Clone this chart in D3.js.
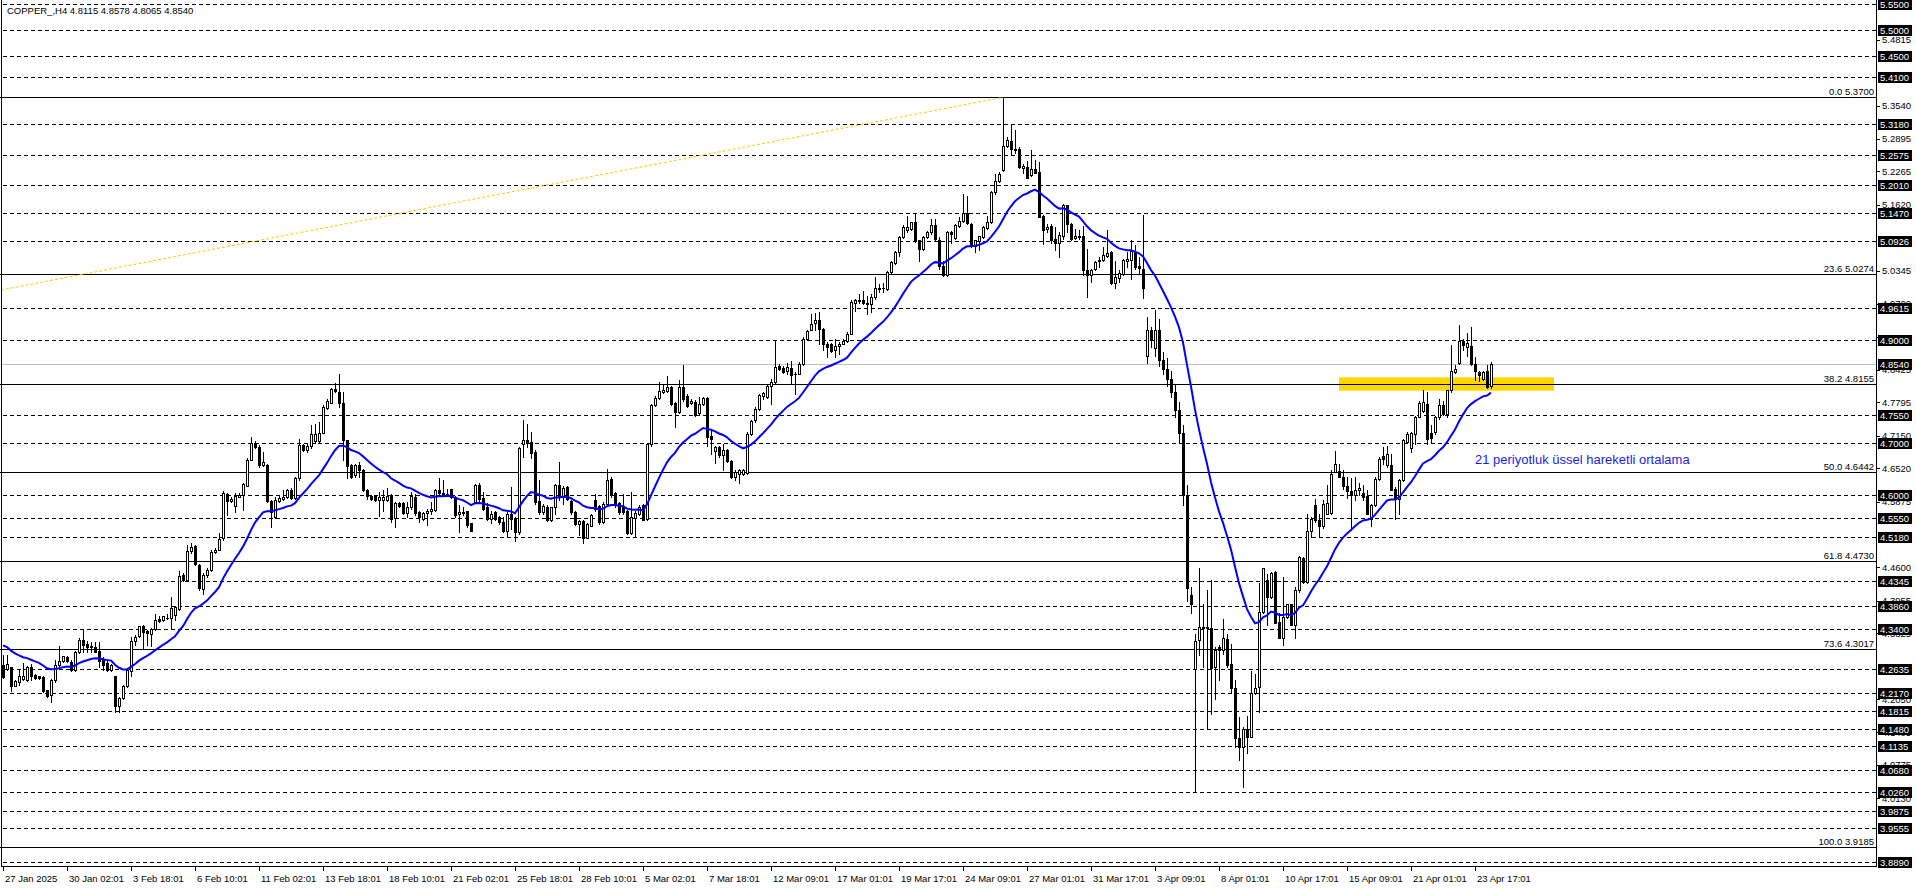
<!DOCTYPE html>
<html><head><meta charset="utf-8">
<script src="https://cdn.jsdelivr.net/npm/d3@7"></script>
<style>html,body{margin:0;padding:0;background:#fff;overflow:hidden}svg{display:block}</style>
</head><body>
<svg id="c" width="1916" height="888"></svg>
<script>
// ---------------- DATA ----------------
const opens=[
4.271,4.264,4.267,4.231,4.239,4.244,4.242,4.268,4.251,4.249,
4.248,4.222,4.213,4.242,4.271,4.278,4.286,4.276,4.262,4.297,
4.319,4.312,4.307,4.306,4.299,4.280,4.275,4.262,4.249,4.191,
4.207,4.230,4.259,4.317,4.328,4.347,4.336,4.331,4.340,4.360,
4.359,4.362,4.362,4.368,4.379,4.446,4.436,4.491,4.502,4.465,
4.418,4.446,4.455,4.489,4.494,4.517,4.602,4.588,4.578,4.597,
4.600,4.618,4.668,4.700,4.693,4.658,4.658,4.588,4.558,4.588,
4.592,4.596,4.610,4.594,4.633,4.697,4.687,4.695,4.704,4.704,
4.721,4.768,4.779,4.805,4.799,4.778,4.707,4.658,4.638,4.659,
4.649,4.610,4.599,4.598,4.591,4.591,4.590,4.601,4.556,4.585,
4.585,4.565,4.576,4.596,4.567,4.554,4.565,4.570,4.572,4.610,
4.604,4.601,4.611,4.596,4.563,4.565,4.569,4.546,4.587,4.619,
4.595,4.576,4.554,4.567,4.558,4.548,4.530,4.563,4.554,4.529,
4.699,4.707,4.702,4.683,4.588,4.567,4.577,4.552,4.576,4.619,
4.596,4.616,4.589,4.567,4.545,4.550,4.517,4.541,4.591,4.578,
4.548,4.583,4.632,4.604,4.585,4.577,4.569,4.527,4.556,4.564,
4.581,4.554,4.698,4.774,4.788,4.799,4.801,4.810,4.778,4.761,
4.810,4.791,4.778,4.781,4.758,4.777,4.788,4.714,4.685,4.694,
4.677,4.688,4.666,4.636,4.640,4.641,4.643,4.719,4.745,4.767,
4.791,4.790,4.812,4.819,4.850,4.847,4.840,4.847,4.835,4.835,
4.853,4.903,4.920,4.933,4.939,4.922,4.892,4.892,4.881,4.888,
4.893,4.898,4.912,4.971,4.975,4.978,4.971,4.969,4.983,4.999,
5.000,4.999,5.031,5.049,5.070,5.099,5.113,5.115,5.128,5.093,
5.077,5.099,5.109,5.122,5.094,5.044,5.027,5.110,5.098,5.120,
5.130,5.146,5.125,5.082,5.091,5.099,5.117,5.128,5.186,5.209,
5.229,5.275,5.286,5.270,5.270,5.233,5.235,5.219,5.231,5.225,
5.140,5.116,5.121,5.095,5.088,5.101,5.161,5.124,5.098,5.101,
5.101,5.036,5.026,5.038,5.053,5.056,5.062,5.071,5.011,5.021,
5.029,5.054,5.056,5.071,5.043,5.038,4.870,4.919,4.885,4.920,
4.862,4.845,4.825,4.800,4.765,4.720,4.600,4.406,4.264,4.319,
4.343,4.345,4.343,4.267,4.305,4.301,4.322,4.273,4.227,4.129,
4.113,4.148,4.132,4.216,4.229,4.374,4.436,4.403,4.451,4.354,
4.324,4.364,4.389,4.348,4.416,4.479,4.432,4.530,4.580,4.551,
4.540,4.564,4.565,4.645,4.646,4.636,4.617,4.608,4.600,4.610,
4.604,4.599,4.554,4.580,4.632,4.676,4.658,4.659,4.612,4.593,
4.629,4.703,4.692,4.719,4.752,4.763,4.777,4.720,4.722,4.751,
4.774,4.757,4.803,4.838,4.856,4.899,4.887,4.888,4.854,4.838,
4.825,4.840,4.8115];
const highs=[
4.291,4.291,4.268,4.242,4.262,4.275,4.269,4.273,4.254,4.250,
4.249,4.223,4.244,4.281,4.308,4.289,4.288,4.281,4.299,4.323,
4.341,4.317,4.315,4.315,4.315,4.286,4.282,4.273,4.250,4.210,
4.233,4.265,4.326,4.329,4.347,4.349,4.338,4.342,4.370,4.365,
4.366,4.370,4.402,4.385,4.454,4.449,4.504,4.508,4.504,4.467,
4.449,4.459,4.493,4.497,4.526,4.607,4.605,4.596,4.604,4.604,
4.623,4.671,4.712,4.704,4.697,4.684,4.660,4.591,4.597,4.600,
4.610,4.611,4.613,4.635,4.709,4.699,4.699,4.736,4.738,4.742,
4.775,4.786,4.807,4.817,4.835,4.800,4.707,4.661,4.661,4.664,
4.650,4.612,4.601,4.599,4.606,4.609,4.614,4.603,4.587,4.587,
4.586,4.587,4.606,4.603,4.570,4.567,4.574,4.587,4.612,4.634,
4.630,4.612,4.612,4.598,4.580,4.577,4.570,4.546,4.622,4.623,
4.606,4.585,4.570,4.570,4.559,4.558,4.567,4.616,4.558,4.693,
4.746,4.738,4.723,4.687,4.630,4.582,4.580,4.577,4.622,4.664,
4.617,4.617,4.590,4.570,4.552,4.551,4.546,4.563,4.603,4.580,
4.587,4.651,4.635,4.606,4.587,4.603,4.572,4.606,4.570,4.580,
4.583,4.699,4.777,4.791,4.819,4.816,4.830,4.812,4.780,4.823,
4.851,4.795,4.787,4.785,4.790,4.790,4.790,4.725,4.696,4.696,
4.699,4.690,4.667,4.648,4.651,4.651,4.722,4.746,4.770,4.796,
4.799,4.816,4.825,4.901,4.853,4.849,4.856,4.859,4.838,4.857,
4.906,4.920,4.951,4.952,4.954,4.924,4.896,4.894,4.903,4.896,
4.903,4.916,4.977,4.980,4.990,4.995,4.986,4.990,5.022,5.008,
5.010,5.033,5.053,5.072,5.102,5.122,5.141,5.129,5.146,5.094,
5.102,5.112,5.135,5.135,5.099,5.054,5.112,5.112,5.125,5.138,
5.182,5.180,5.126,5.094,5.102,5.121,5.141,5.189,5.222,5.225,
5.370,5.293,5.319,5.307,5.273,5.241,5.246,5.269,5.249,5.245,
5.142,5.125,5.124,5.119,5.109,5.164,5.162,5.126,5.116,5.113,
5.120,5.077,5.038,5.054,5.061,5.080,5.114,5.073,5.054,5.035,
5.058,5.071,5.093,5.084,5.061,5.142,4.945,4.926,4.959,4.940,
4.877,4.865,4.840,4.815,4.780,4.735,4.620,4.423,4.332,4.458,
4.389,4.416,4.435,4.306,4.309,4.361,4.332,4.311,4.242,4.171,
4.151,4.172,4.260,4.254,4.430,4.459,4.448,4.451,4.453,4.371,
4.442,4.390,4.390,4.422,4.483,4.480,4.564,4.557,4.593,4.564,
4.591,4.619,4.649,4.685,4.661,4.648,4.635,4.634,4.636,4.623,
4.619,4.609,4.583,4.635,4.674,4.694,4.696,4.680,4.616,4.632,
4.709,4.722,4.722,4.754,4.783,4.803,4.799,4.735,4.754,4.787,
4.783,4.803,4.890,4.851,4.930,4.903,4.914,4.926,4.867,4.841,
4.841,4.851,4.8578];
const lows=[
4.246,4.262,4.220,4.230,4.233,4.242,4.241,4.242,4.244,4.244,
4.219,4.210,4.200,4.239,4.268,4.277,4.277,4.260,4.260,4.294,
4.297,4.297,4.297,4.296,4.268,4.262,4.259,4.260,4.181,4.181,
4.205,4.228,4.249,4.310,4.326,4.304,4.310,4.307,4.339,4.355,
4.357,4.360,4.342,4.358,4.378,4.433,4.435,4.488,4.465,4.417,
4.409,4.442,4.454,4.488,4.493,4.513,4.562,4.586,4.568,4.596,
4.571,4.617,4.667,4.691,4.654,4.657,4.586,4.539,4.555,4.586,
4.591,4.594,4.592,4.592,4.629,4.686,4.684,4.691,4.700,4.702,
4.720,4.766,4.778,4.800,4.771,4.668,4.634,4.634,4.636,4.635,
4.608,4.593,4.590,4.589,4.559,4.570,4.589,4.548,4.538,4.577,
4.564,4.558,4.574,4.561,4.548,4.552,4.543,4.564,4.570,4.601,
4.598,4.598,4.595,4.558,4.529,4.561,4.538,4.530,4.585,4.585,
4.572,4.552,4.546,4.551,4.545,4.529,4.519,4.535,4.511,4.525,
4.674,4.693,4.672,4.582,4.564,4.564,4.550,4.550,4.563,4.590,
4.583,4.590,4.564,4.543,4.522,4.507,4.516,4.540,4.570,4.545,
4.546,4.580,4.596,4.577,4.564,4.564,4.525,4.524,4.518,4.561,
4.551,4.552,4.696,4.772,4.787,4.797,4.799,4.774,4.732,4.758,
4.783,4.770,4.777,4.754,4.756,4.774,4.696,4.679,4.662,4.674,
4.649,4.664,4.634,4.630,4.623,4.638,4.640,4.716,4.741,4.765,
4.787,4.788,4.777,4.816,4.843,4.836,4.835,4.816,4.795,4.834,
4.851,4.901,4.919,4.919,4.893,4.881,4.867,4.877,4.868,4.874,
4.892,4.896,4.911,4.957,4.971,4.969,4.951,4.954,4.980,4.993,
4.993,4.997,5.030,5.048,5.062,5.098,5.109,5.113,5.090,5.054,
5.075,5.098,5.106,5.094,5.038,5.025,5.025,5.088,5.096,5.119,
5.128,5.124,5.080,5.070,5.075,5.098,5.115,5.126,5.183,5.206,
5.227,5.273,5.260,5.262,5.233,5.223,5.213,5.217,5.224,5.138,
5.086,5.109,5.088,5.074,5.060,5.096,5.109,5.093,5.096,5.095,
5.027,4.984,5.013,5.036,5.042,5.054,5.061,5.008,5.000,5.013,
5.026,5.042,5.019,5.038,5.029,4.982,4.855,4.887,4.870,4.850,
4.835,4.812,4.790,4.752,4.700,4.580,4.395,4.371,4.025,4.290,
4.267,4.148,4.177,4.206,4.242,4.293,4.267,4.216,4.113,4.087,
4.035,4.100,4.131,4.214,4.180,4.371,4.348,4.400,4.352,4.324,
4.309,4.363,4.348,4.324,4.412,4.429,4.429,4.518,4.548,4.518,
4.537,4.563,4.563,4.645,4.635,4.612,4.595,4.532,4.591,4.600,
4.590,4.563,4.541,4.578,4.630,4.661,4.654,4.609,4.554,4.563,
4.627,4.701,4.683,4.699,4.751,4.761,4.699,4.701,4.719,4.748,
4.756,4.752,4.799,4.836,4.854,4.880,4.870,4.851,4.822,4.821,
4.822,4.808,4.8065];
const closes=[
4.248,4.273,4.231,4.240,4.250,4.250,4.268,4.250,4.246,4.246,
4.220,4.212,4.242,4.271,4.278,4.288,4.278,4.262,4.297,4.320,
4.310,4.306,4.306,4.297,4.278,4.271,4.262,4.271,4.191,4.207,
4.231,4.262,4.318,4.326,4.346,4.334,4.333,4.340,4.359,4.357,
4.365,4.363,4.381,4.383,4.444,4.435,4.492,4.499,4.467,4.420,
4.446,4.455,4.489,4.494,4.515,4.604,4.588,4.592,4.598,4.600,
4.622,4.668,4.700,4.693,4.658,4.665,4.588,4.568,4.591,4.595,
4.597,4.609,4.594,4.633,4.697,4.687,4.695,4.718,4.718,4.721,
4.771,4.783,4.805,4.802,4.778,4.707,4.656,4.635,4.659,4.649,
4.610,4.599,4.593,4.590,4.596,4.596,4.599,4.554,4.585,4.578,
4.565,4.577,4.598,4.565,4.558,4.565,4.570,4.574,4.610,4.604,
4.601,4.603,4.596,4.561,4.567,4.567,4.543,4.530,4.619,4.593,
4.574,4.554,4.564,4.554,4.548,4.530,4.563,4.554,4.529,4.692,
4.707,4.701,4.681,4.587,4.567,4.578,4.551,4.576,4.619,4.596,
4.614,4.593,4.567,4.545,4.550,4.516,4.545,4.561,4.574,4.548,
4.583,4.630,4.601,4.583,4.567,4.567,4.527,4.558,4.566,4.577,
4.552,4.698,4.775,4.788,4.801,4.803,4.809,4.777,4.761,4.810,
4.787,4.772,4.783,4.756,4.777,4.788,4.712,4.709,4.694,4.677,
4.688,4.666,4.635,4.645,4.648,4.649,4.719,4.743,4.767,4.793,
4.797,4.812,4.819,4.848,4.845,4.838,4.848,4.832,4.834,4.854,
4.903,4.917,4.932,4.939,4.922,4.892,4.886,4.879,4.888,4.893,
4.899,4.912,4.974,4.977,4.978,4.971,4.969,4.983,5.001,5.001,
5.001,5.031,5.051,5.070,5.099,5.119,5.119,5.128,5.091,5.077,
5.099,5.109,5.123,5.096,5.044,5.027,5.110,5.106,5.122,5.130,
5.146,5.126,5.082,5.093,5.101,5.119,5.128,5.186,5.209,5.222,
5.275,5.288,5.270,5.269,5.236,5.238,5.214,5.231,5.224,5.138,
5.113,5.119,5.093,5.088,5.103,5.162,5.124,5.096,5.101,5.100,
5.036,5.026,5.036,5.051,5.056,5.064,5.069,5.011,5.022,5.030,
5.056,5.057,5.073,5.042,5.040,5.001,4.920,4.900,4.920,4.862,
4.845,4.825,4.800,4.765,4.720,4.600,4.420,4.390,4.318,4.345,
4.345,4.342,4.266,4.301,4.300,4.324,4.271,4.227,4.129,4.113,
4.148,4.132,4.216,4.227,4.374,4.458,4.403,4.449,4.352,4.324,
4.364,4.389,4.348,4.416,4.481,4.432,4.530,4.554,4.551,4.540,
4.583,4.585,4.641,4.660,4.636,4.617,4.608,4.600,4.610,4.614,
4.596,4.564,4.580,4.632,4.670,4.670,4.680,4.610,4.593,4.630,
4.706,4.719,4.720,4.752,4.778,4.780,4.709,4.711,4.751,4.774,
4.757,4.803,4.840,4.845,4.899,4.890,4.894,4.854,4.840,4.832,
4.838,4.810,4.854];

const emaPeriod=21;
const emaStart=4.309;            // EMA value at the first visible bar
const dashedLevels=[5.5500,5.5000,5.4500,5.4100,5.3180,5.2575,5.2010,5.1470,5.0926,4.9615,4.9000,
  4.7550,4.7000,4.6000,4.5550,4.5180,4.4345,4.3860,4.3400,4.2635,4.2170,4.1815,4.1480,4.1135,
  4.0680,4.0260,3.9875,3.9555,3.8890];
const fibRatios=["0.0","23.6","38.2","50.0","61.8","73.6","100.0"];
const fibPrices=[5.3700,5.0274,4.8155,4.6442,4.4730,4.3017,3.9185];
// regular price-scale ticks that are not fully covered by a highlighted label
const axisTicks=[5.4815,5.3540,5.2895,5.2265,5.1620,5.0345,4.9700,4.9060,4.8425,
  4.7795,4.7150,4.6520,4.5875,4.4600,4.3955,4.3325,4.2050,4.1405,4.0775,4.0130];
const currentPrice=4.8540;
const timeLabelBars=[0,16,32,48,64,80,96,112,128,144,160,176,192,208,224,240,256,272,288,304,320,336,352,368];
const timeLabels=["27 Jan 2025","30 Jan 02:01","3 Feb 18:01","6 Feb 10:01","11 Feb 02:01","13 Feb 18:01",
  "18 Feb 10:01","21 Feb 02:01","25 Feb 18:01","28 Feb 10:01","5 Mar 02:01","7 Mar 18:01","12 Mar 09:01",
  "17 Mar 01:01","19 Mar 17:01","24 Mar 09:01","27 Mar 01:01","31 Mar 17:01","3 Apr 09:01","8 Apr 01:01",
  "10 Apr 17:01","15 Apr 09:01","21 Apr 01:01","23 Apr 17:01"];
const zoneBars=[334,387.75];
const zonePrices=[4.8280,4.8021];
const trendBars=[-0.5,250];
const trendPrices=[4.997,5.370];
const headerText="COPPER_,H4  4.8115 4.8578 4.8065 4.8540";
const emaLabel="21 periyotluk üssel hareketli ortalama";

// ---------------- DRAW ----------------
const svg=d3.select("#c");
const FONT="'Liberation Sans', Arial, sans-serif";
const plotRight=1876, plotBottom=867;
const x=d3.scaleLinear().domain([0,372]).range([3,1491]);
const y=d3.scaleLinear().domain([3.88,5.5585]).range([867,0]);
const py=p=>Math.round(y(p))+0.5;

svg.append("rect").attr("width",1916).attr("height",888).attr("fill","#fff");

// current price line
svg.append("line").attr("x1",0).attr("x2",plotRight).attr("y1",py(currentPrice)).attr("y2",py(currentPrice))
  .attr("stroke","#c0c0c0").attr("stroke-width",1);

// yellow zone
svg.append("rect").attr("x",x(zoneBars[0])).attr("width",x(zoneBars[1])-x(zoneBars[0]))
  .attr("y",y(zonePrices[0])).attr("height",y(zonePrices[1])-y(zonePrices[0])).attr("fill","#ffd700");

// dashed levels
svg.append("g").selectAll("line").data(dashedLevels).join("line")
  .attr("x1",3).attr("x2",plotRight).attr("y1",d=>py(d)).attr("y2",d=>py(d))
  .attr("stroke","#000").attr("stroke-width",1).attr("stroke-dasharray","4,3");

// fib levels
const fg=svg.append("g");
fg.selectAll("line").data(fibPrices).join("line")
  .attr("x1",0).attr("x2",plotRight).attr("y1",d=>py(d)).attr("y2",d=>py(d))
  .attr("stroke","#000").attr("stroke-width",1);
fg.selectAll("text").data(fibPrices).join("text")
  .attr("x",plotRight-2).attr("y",d=>py(d)-2.5).attr("text-anchor","end")
  .attr("font-family",FONT).attr("font-size","9.5px").attr("fill","#000")
  .text((d,i)=>fibRatios[i]+" "+d.toFixed(4));

// fib trend line (dotted)
svg.append("line").attr("x1",x(trendBars[0])).attr("y1",y(trendPrices[0]))
  .attr("x2",x(trendBars[1])).attr("y2",y(trendPrices[1]))
  .attr("stroke","#ffc800").attr("stroke-width",1).attr("stroke-dasharray","3,2");

// candles
const bars=d3.range(closes.length).map(i=>({i,o:opens[i],h:highs[i],l:lows[i],c:closes[i]}));
const cg=svg.append("g");
cg.selectAll("line").data(bars).join("line")
  .attr("x1",d=>x(d.i)+0.5).attr("x2",d=>x(d.i)+0.5)
  .attr("y1",d=>Math.round(y(d.h))).attr("y2",d=>Math.round(y(d.l))+1)
  .attr("stroke","#000").attr("stroke-width",1);
cg.selectAll("rect").data(bars).join("rect")
  .each(function(d){
    const top=Math.round(y(Math.max(d.o,d.c))), bot=Math.round(y(Math.min(d.o,d.c)));
    const s=d3.select(this);
    if(d.c>d.o && bot-top>=2){
      s.attr("x",x(d.i)-0.5).attr("width",2).attr("y",top+0.5).attr("height",bot-top)
       .attr("fill","#fff").attr("stroke","#000").attr("stroke-width",1);
    } else {
      s.attr("x",x(d.i)-1).attr("width",3).attr("y",top).attr("height",Math.max(1,bot-top+1))
       .attr("fill","#000");
    }
  });

// EMA 21
const ema=[];
closes.forEach((c,i)=>{ema.push(i===0?emaStart:ema[i-1]+(2/(emaPeriod+1))*(c-ema[i-1]));});
svg.append("path").datum(ema)
  .attr("d",d3.line().x((d,i)=>x(i)).y(d=>y(d)))
  .attr("fill","none").attr("stroke","#0000ff").attr("stroke-width",2);

// EMA label
svg.append("text").attr("x",x(368)).attr("y",y(4.6596)).attr("font-family",FONT).attr("font-size","13px")
  .attr("fill","#1c1ce6").text(emaLabel);

// header
svg.append("text").attr("x",7).attr("y",13.5).attr("font-family",FONT).attr("font-size","9.5px")
  .attr("fill","#000").text(headerText);

// frame
svg.append("line").attr("x1",1.5).attr("x2",1.5).attr("y1",0).attr("y2",plotBottom).attr("stroke","#000");
svg.append("line").attr("x1",1).attr("x2",plotRight+1).attr("y1",plotBottom-0.5).attr("y2",plotBottom-0.5).attr("stroke","#000");
svg.append("line").attr("x1",plotRight+0.5).attr("x2",plotRight+0.5).attr("y1",0).attr("y2",plotBottom).attr("stroke","#000");

// right axis plain ticks
const ag=svg.append("g");
ag.selectAll("line").data(axisTicks).join("line")
  .attr("x1",plotRight).attr("x2",plotRight+4).attr("y1",d=>py(d)).attr("y2",d=>py(d)).attr("stroke","#000");
ag.selectAll("text").data(axisTicks).join("text")
  .attr("x",plotRight+6).attr("y",d=>y(d)+3.5).attr("font-family",FONT).attr("font-size","9.5px")
  .attr("fill","#000").text(d=>d.toFixed(4));

// right axis highlighted labels
const boxLevels=dashedLevels.concat([currentPrice]);
const bg=svg.append("g");
bg.selectAll("rect").data(boxLevels).join("rect")
  .attr("x",plotRight+2).attr("width",34).attr("y",d=>Math.round(y(d))-5).attr("height",11).attr("fill","#000");
bg.selectAll("text").data(boxLevels).join("text")
  .attr("x",plotRight+4).attr("y",d=>Math.round(y(d))+4).attr("font-family",FONT).attr("font-size","9.5px")
  .attr("fill","#fff").text(d=>d.toFixed(4));

// time axis
const tg=svg.append("g");
tg.selectAll("line").data(timeLabelBars).join("line")
  .attr("x1",d=>x(d)+0.5).attr("x2",d=>x(d)+0.5).attr("y1",plotBottom).attr("y2",plotBottom+4).attr("stroke","#000");
tg.selectAll("text").data(timeLabelBars).join("text")
  .attr("x",d=>x(d)+2).attr("y",plotBottom+15).attr("font-family",FONT).attr("font-size","9.5px")
  .attr("fill","#000").text((d,i)=>timeLabels[i]);
</script>
</body></html>
